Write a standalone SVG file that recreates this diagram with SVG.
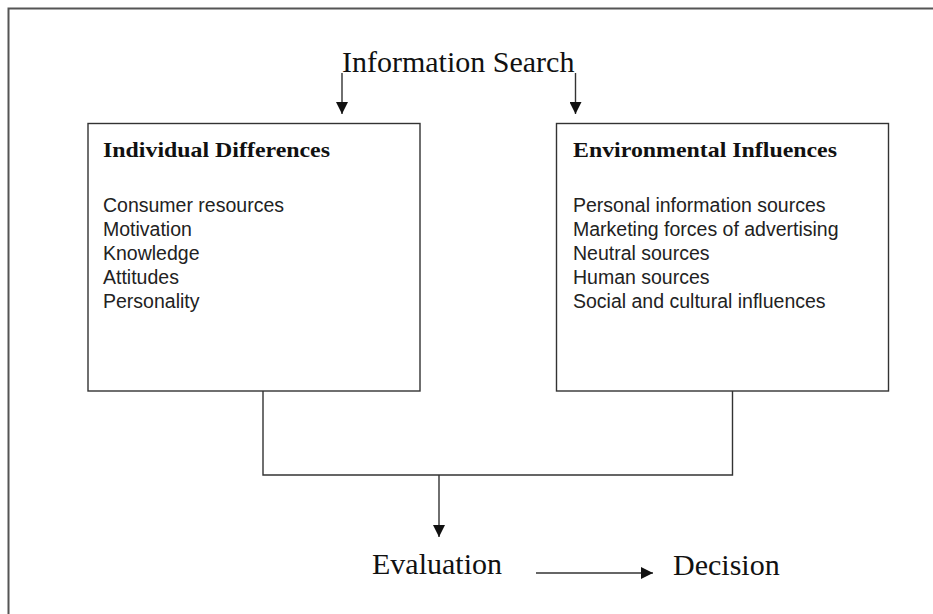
<svg xmlns="http://www.w3.org/2000/svg" width="933" height="614" viewBox="0 0 933 614">
<style>
.ln{fill:none;stroke:#333;stroke-width:1.4}
.box{fill:#fff;stroke:#333;stroke-width:1.4}
.big{font-family:"Liberation Serif","Times New Roman",serif;font-size:30px;fill:#111}
.ttl{font-family:"Liberation Serif","Times New Roman",serif;font-size:22px;font-weight:bold;fill:#111}
.item{font-family:"Liberation Sans",Arial,sans-serif;font-size:19.5px;fill:#222}
</style>
<defs>
<marker id="ah" viewBox="0 0 10 10" refX="10" refY="5" markerWidth="12" markerHeight="12" markerUnits="userSpaceOnUse" orient="auto">
<path d="M0,0 L10,5 L0,10 Z" fill="#111"/>
</marker>
</defs>
<rect width="933" height="614" fill="#fff"/>
<g id="frame"><path d="M8.5,614 V8.5 H933" fill="none" stroke="#555" stroke-width="2"/></g>
<g id="info-search"><text class="big" x="342" y="72">Information Search</text></g>
<g id="individual">
<rect class="box" x="88" y="123.5" width="332" height="267.5"/>
<text class="ttl" x="103" y="157" textLength="227" lengthAdjust="spacingAndGlyphs">Individual Differences</text>
<text class="item" x="103" y="212">Consumer resources</text>
<text class="item" x="103" y="236">Motivation</text>
<text class="item" x="103" y="260">Knowledge</text>
<text class="item" x="103" y="284">Attitudes</text>
<text class="item" x="103" y="308">Personality</text>
</g>
<g id="environmental">
<rect class="box" x="556.5" y="123.5" width="332" height="267.5"/>
<text class="ttl" x="573" y="157" textLength="264" lengthAdjust="spacingAndGlyphs">Environmental Influences</text>
<text class="item" x="573" y="212">Personal information sources</text>
<text class="item" x="573" y="236">Marketing forces of advertising</text>
<text class="item" x="573" y="260">Neutral sources</text>
<text class="item" x="573" y="284">Human sources</text>
<text class="item" x="573" y="308">Social and cultural influences</text>
</g>
<g id="evaluation"><text class="big" x="372" y="574">Evaluation</text></g>
<g id="decision"><text class="big" x="673" y="575">Decision</text></g>
<g id="connectors">
<line class="ln" x1="342" y1="73" x2="342" y2="114" marker-end="url(#ah)"/>
<line class="ln" x1="575.5" y1="73" x2="575.5" y2="114" marker-end="url(#ah)"/>
<path class="ln" d="M263,391 V475 H732.5 V391"/>
<line class="ln" x1="439" y1="475" x2="439" y2="537" marker-end="url(#ah)"/>
<line class="ln" x1="536" y1="573" x2="653" y2="573" marker-end="url(#ah)"/>
</g>
</svg>
